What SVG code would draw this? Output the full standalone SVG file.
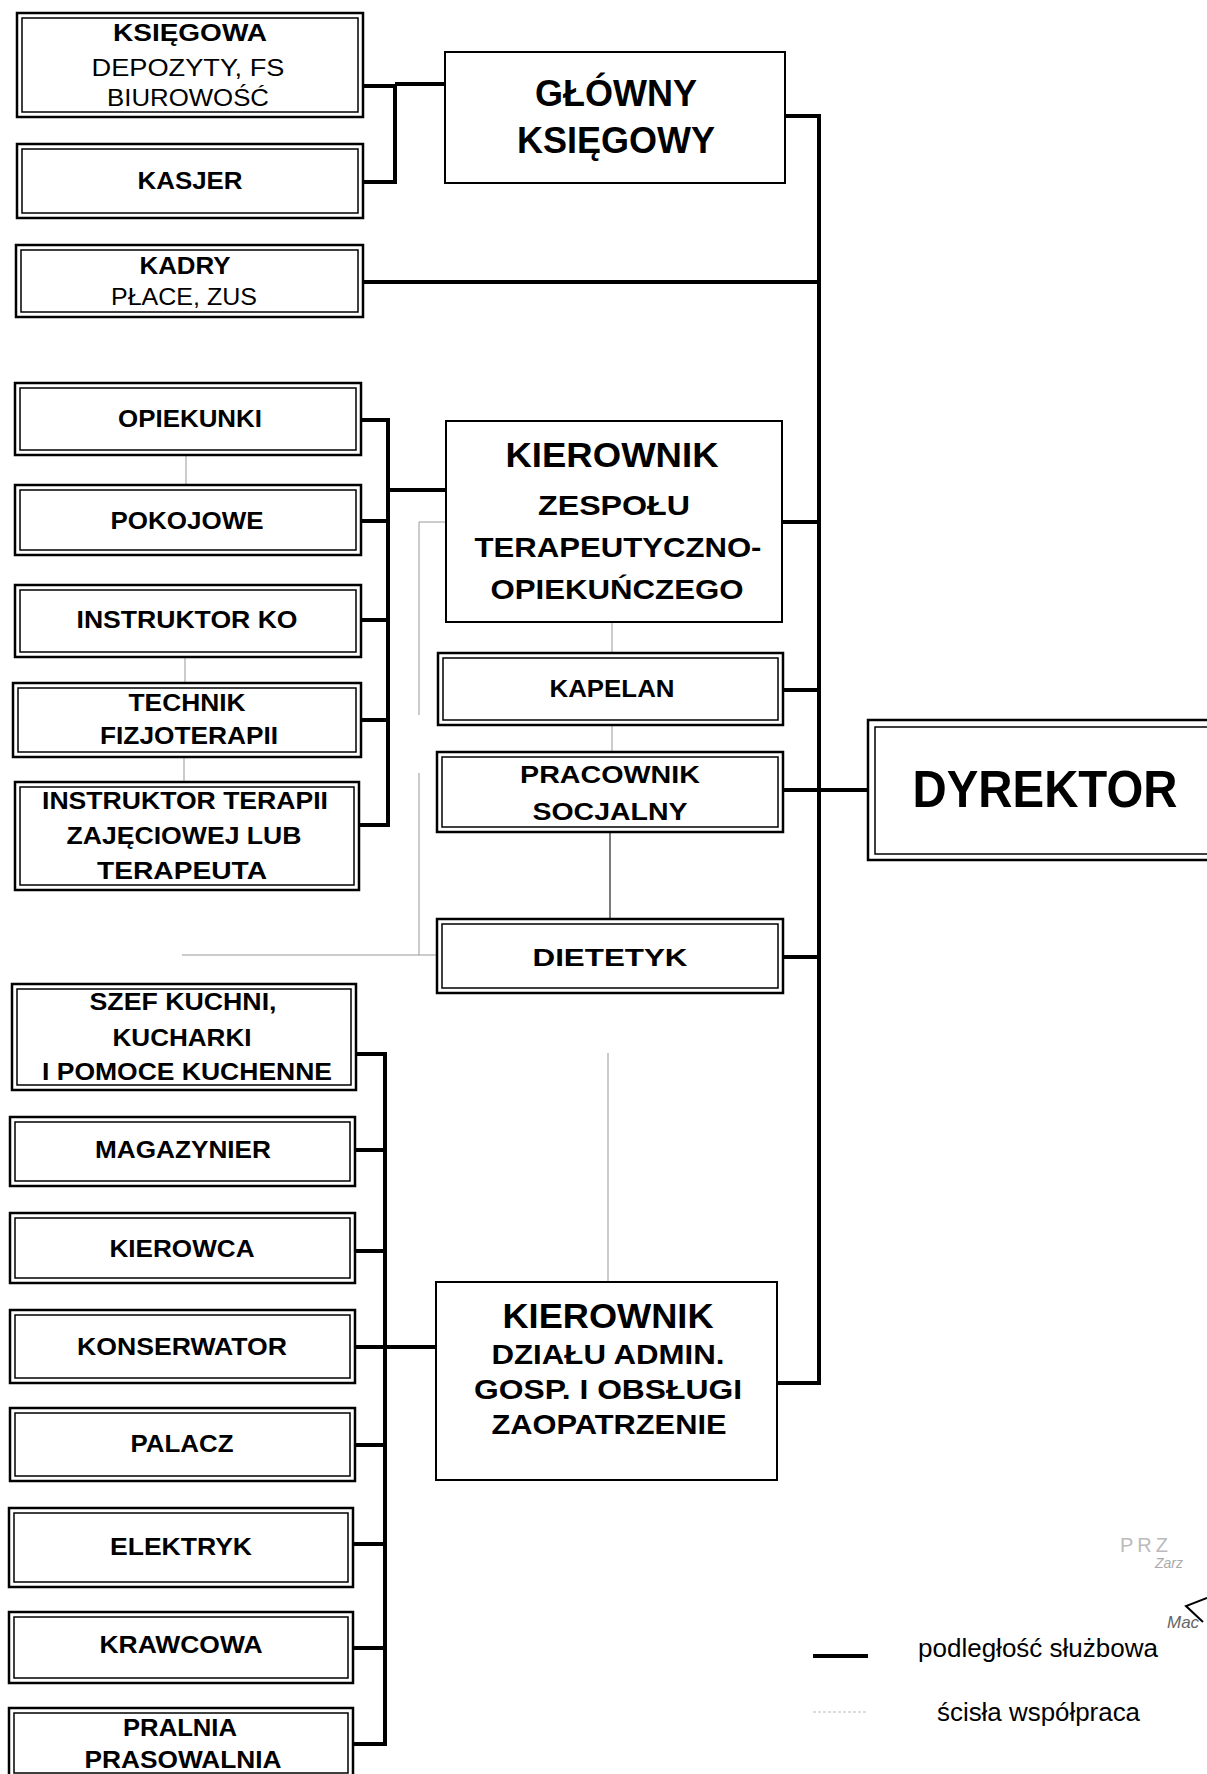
<svg xmlns="http://www.w3.org/2000/svg" width="1207" height="1774" viewBox="0 0 1207 1774">
<style>
text{font-family:"Liberation Sans",Arial,sans-serif;fill:#000;text-anchor:middle}
.b{font-weight:bold;font-size:24.5px}
.r{font-size:23px}
.big{font-weight:bold;font-size:36px}
.k1{font-weight:bold;font-size:35px}
.k2{font-weight:bold;font-size:28px}
.k3{font-weight:bold;font-size:28px}
.o{fill:#fff;stroke:#000;stroke-width:2.5}
.i{fill:none;stroke:#000;stroke-width:1.5}
.s{fill:#fff;stroke:#000;stroke-width:2}
.thick{fill:none;stroke:#000;stroke-width:4;stroke-linejoin:miter}
.thin{fill:none;stroke:#999;stroke-width:1}
.dark{fill:none;stroke:#333;stroke-width:1.3}
.leg{font-size:25px;text-anchor:start}
</style>
<rect width="1207" height="1774" fill="#fff"/>
<g id="connectors">
<path class="thick" d="M363,86 H395 V182 H363 M395,84 H445"/>
<path class="thick" d="M785,116 H819 V1383 H777"/>
<path class="thick" d="M363,282 H819 M782,522 H819 M783,690 H819 M783,790 H868 M783,957 H819"/>
<path class="thick" d="M361,420 H388 V825 H359 M361,521 H388 M361,620 H388 M361,720 H388 M388,490 H446"/>
<path class="thick" d="M356,1054 H385 V1744 H353 M355,1150 H385 M355,1251 H385 M355,1347 H437 M355,1445 H385 M353,1544 H385 M353,1648 H385"/>
<path class="thin" d="M446,522 H419 V715 M419,773 V955 M182,955 H437"/>
<path class="thin" d="M612,622 V653 M612,725 V752 M608,1053 V1282"/>
<path class="thin" d="M186,455 V485 M185,657 V683 M184,757 V782"/>
<path class="dark" d="M610,832 V919"/>
</g>
<g id="ksiegowa"><rect class="o" x="17" y="13" width="346" height="104"/><rect class="i" x="22" y="18" width="336" height="94"/>
<text class="b" x="190" y="41" font-size="25" textLength="154" lengthAdjust="spacingAndGlyphs">KSIĘGOWA</text>
<text class="r" x="188" y="76" textLength="193" lengthAdjust="spacingAndGlyphs">DEPOZYTY, FS</text>
<text class="r" x="188" y="106" textLength="162" lengthAdjust="spacingAndGlyphs">BIUROWOŚĆ</text></g>
<g id="kasjer"><rect class="o" x="17" y="144" width="346" height="74"/><rect class="i" x="22" y="149" width="336" height="64"/>
<text class="b" x="190" y="189" textLength="105" lengthAdjust="spacingAndGlyphs">KASJER</text></g>
<g id="kadry"><rect class="o" x="16" y="245" width="347" height="72"/><rect class="i" x="21" y="250" width="337" height="62"/>
<text class="b" x="185" y="274" textLength="91" lengthAdjust="spacingAndGlyphs">KADRY</text>
<text class="r" x="184" y="305" textLength="146" lengthAdjust="spacingAndGlyphs">PŁACE, ZUS</text></g>
<g id="glowny"><rect class="s" x="445" y="52" width="340" height="131"/>
<text class="big" x="616" y="106" textLength="162" lengthAdjust="spacingAndGlyphs">GŁÓWNY</text>
<text class="big" x="616" y="153" textLength="198" lengthAdjust="spacingAndGlyphs">KSIĘGOWY</text></g>
<g id="opiekunki"><rect class="o" x="15" y="383" width="346" height="72"/><rect class="i" x="20" y="388" width="336" height="62"/>
<text class="b" x="190" y="427" textLength="144" lengthAdjust="spacingAndGlyphs">OPIEKUNKI</text></g>
<g id="pokojowe"><rect class="o" x="15" y="485" width="346" height="70"/><rect class="i" x="20" y="490" width="336" height="60"/>
<text class="b" x="187" y="529" textLength="153" lengthAdjust="spacingAndGlyphs">POKOJOWE</text></g>
<g id="instruktor-ko"><rect class="o" x="15" y="585" width="346" height="72"/><rect class="i" x="20" y="590" width="336" height="62"/>
<text class="b" x="187" y="628" textLength="221" lengthAdjust="spacingAndGlyphs">INSTRUKTOR KO</text></g>
<g id="technik"><rect class="o" x="13" y="683" width="348" height="74"/><rect class="i" x="18" y="688" width="338" height="64"/>
<text class="b" x="187" y="711" textLength="117" lengthAdjust="spacingAndGlyphs">TECHNIK</text>
<text class="b" x="189" y="744" textLength="178" lengthAdjust="spacingAndGlyphs">FIZJOTERAPII</text></g>
<g id="instruktor-terapii"><rect class="o" x="15" y="782" width="344" height="108"/><rect class="i" x="20" y="787" width="334" height="98"/>
<text class="b" x="185" y="809" textLength="286" lengthAdjust="spacingAndGlyphs">INSTRUKTOR TERAPII</text>
<text class="b" x="184" y="844" textLength="235" lengthAdjust="spacingAndGlyphs">ZAJĘCIOWEJ LUB</text>
<text class="b" x="182" y="879" textLength="170" lengthAdjust="spacingAndGlyphs">TERAPEUTA</text></g>
<g id="kierownik-zespolu"><rect class="s" x="446" y="421" width="336" height="201"/>
<text class="k1" x="612" y="467" textLength="213" lengthAdjust="spacingAndGlyphs">KIEROWNIK</text>
<text class="k2" x="614" y="515" textLength="152" lengthAdjust="spacingAndGlyphs">ZESPOŁU</text>
<text class="k2" x="618" y="557" textLength="287" lengthAdjust="spacingAndGlyphs">TERAPEUTYCZNO-</text>
<text class="k2" x="617" y="599" textLength="253" lengthAdjust="spacingAndGlyphs">OPIEKUŃCZEGO</text></g>
<g id="kapelan"><rect class="o" x="438" y="653" width="345" height="72"/><rect class="i" x="443" y="658" width="335" height="62"/>
<text class="b" x="612" y="697" textLength="125" lengthAdjust="spacingAndGlyphs">KAPELAN</text></g>
<g id="pracownik"><rect class="o" x="437" y="752" width="346" height="80"/><rect class="i" x="442" y="757" width="336" height="70"/>
<text class="b" x="610" y="783" textLength="180" lengthAdjust="spacingAndGlyphs">PRACOWNIK</text>
<text class="b" x="610" y="820" textLength="155" lengthAdjust="spacingAndGlyphs">SOCJALNY</text></g>
<g id="dietetyk"><rect class="o" x="437" y="919" width="346" height="74"/><rect class="i" x="442" y="924" width="336" height="64"/>
<text class="b" x="610" y="966" font-size="27" textLength="155" lengthAdjust="spacingAndGlyphs">DIETETYK</text></g>
<g id="dyrektor"><rect class="o" x="868" y="720" width="350" height="140"/><rect class="i" x="875" y="727" width="340" height="127"/>
<text x="1045" y="807" font-weight="bold" font-size="51" textLength="265" lengthAdjust="spacingAndGlyphs">DYREKTOR</text></g>
<g id="szef-kuchni"><rect class="o" x="12" y="984" width="344" height="106"/><rect class="i" x="17" y="989" width="334" height="96"/>
<text class="b" x="183" y="1010" textLength="187" lengthAdjust="spacingAndGlyphs">SZEF KUCHNI,</text>
<text class="b" x="182" y="1046" textLength="139" lengthAdjust="spacingAndGlyphs">KUCHARKI</text>
<text class="b" x="187" y="1080" textLength="290" lengthAdjust="spacingAndGlyphs">I POMOCE KUCHENNE</text></g>
<g id="magazynier"><rect class="o" x="10" y="1117" width="345" height="69"/><rect class="i" x="15" y="1122" width="335" height="59"/>
<text class="b" x="183" y="1158" textLength="176" lengthAdjust="spacingAndGlyphs">MAGAZYNIER</text></g>
<g id="kierowca"><rect class="o" x="10" y="1213" width="345" height="70"/><rect class="i" x="15" y="1218" width="335" height="60"/>
<text class="b" x="182" y="1257" textLength="145" lengthAdjust="spacingAndGlyphs">KIEROWCA</text></g>
<g id="konserwator"><rect class="o" x="10" y="1310" width="345" height="73"/><rect class="i" x="15" y="1315" width="335" height="63"/>
<text class="b" x="182" y="1355" textLength="210" lengthAdjust="spacingAndGlyphs">KONSERWATOR</text></g>
<g id="palacz"><rect class="o" x="10" y="1408" width="345" height="73"/><rect class="i" x="15" y="1413" width="335" height="63"/>
<text class="b" x="182" y="1452" textLength="103" lengthAdjust="spacingAndGlyphs">PALACZ</text></g>
<g id="elektryk"><rect class="o" x="9" y="1508" width="344" height="79"/><rect class="i" x="14" y="1513" width="334" height="69"/>
<text class="b" x="181" y="1555" textLength="142" lengthAdjust="spacingAndGlyphs">ELEKTRYK</text></g>
<g id="krawcowa"><rect class="o" x="9" y="1612" width="344" height="71"/><rect class="i" x="14" y="1617" width="334" height="61"/>
<text class="b" x="181" y="1653" textLength="163" lengthAdjust="spacingAndGlyphs">KRAWCOWA</text></g>
<g id="pralnia"><rect class="o" x="9" y="1708" width="344" height="72"/><rect class="i" x="14" y="1713" width="334" height="60"/>
<text class="b" x="180" y="1736" textLength="114" lengthAdjust="spacingAndGlyphs">PRALNIA</text>
<text class="b" x="183" y="1768" textLength="197" lengthAdjust="spacingAndGlyphs">PRASOWALNIA</text></g>
<g id="kierownik-dzialu"><rect class="s" x="436" y="1282" width="341" height="198"/>
<text class="k1" x="608" y="1328" textLength="211" lengthAdjust="spacingAndGlyphs">KIEROWNIK</text>
<text class="k3" x="608" y="1364" textLength="233" lengthAdjust="spacingAndGlyphs">DZIAŁU ADMIN.</text>
<text class="k3" x="608" y="1399" textLength="268" lengthAdjust="spacingAndGlyphs">GOSP. I OBSŁUGI</text>
<text class="k3" x="609" y="1434" textLength="235" lengthAdjust="spacingAndGlyphs">ZAOPATRZENIE</text></g>
<g id="legend">
<path class="thick" d="M813,1656 H868"/>
<path d="M813,1712 H867" stroke="#bbb" stroke-width="1" stroke-dasharray="3,2" fill="none"/>
<text class="leg" x="918" y="1657" textLength="240" lengthAdjust="spacingAndGlyphs">podległość służbowa</text>
<text class="leg" x="937" y="1721" textLength="203" lengthAdjust="spacingAndGlyphs">ścisła współpraca</text>
</g>
<g id="stamp">
<text x="1120" y="1552" font-size="20" style="text-anchor:start;fill:#bbb;letter-spacing:4px">PRZ</text>
<text x="1155" y="1568" font-size="14" font-style="italic" style="text-anchor:start;fill:#aaa">Zarz</text>
<text x="1167" y="1628" font-size="17" font-style="italic" style="text-anchor:start;fill:#666">Mac</text>
<path d="M1207,1598 L1186,1606 L1203,1622" fill="none" stroke="#000" stroke-width="2"/>
</g>
</svg>
